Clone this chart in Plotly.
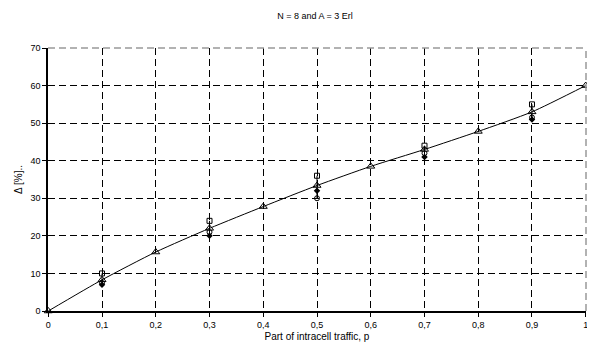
import plotly.graph_objects as go

p_all = [0, 0.1, 0.2, 0.3, 0.4, 0.5, 0.6, 0.7, 0.8, 0.9, 1.0]
delta_calc = [0, 8.3, 15.7, 22.0, 27.8, 33.4, 38.5, 43.0, 47.8, 53.0, 60.0]

p_sim = [0.1, 0.3, 0.5, 0.7, 0.9]
sim_square = [10.0, 24.0, 36.0, 44.0, 55.0]
sim_circle = [7.5, 21.0, 30.0, 42.0, 51.5]
sim_diamond = [7.0, 20.0, 32.0, 41.0, 51.0]

x_ticks = [0, 0.1, 0.2, 0.3, 0.4, 0.5, 0.6, 0.7, 0.8, 0.9, 1]
x_tick_text = ["0", "0,1", "0,2", "0,3", "0,4", "0,5", "0,6", "0,7", "0,8", "0,9", "1"]
y_ticks = [0, 10, 20, 30, 40, 50, 60, 70]

fig = go.Figure()

for i, x in enumerate(p_sim):
    lo = min(sim_square[i], sim_circle[i], sim_diamond[i])
    hi = max(sim_square[i], sim_circle[i], sim_diamond[i])
    fig.add_trace(go.Scatter(x=[x, x], y=[lo, hi], mode="lines",
                             line=dict(color="black", width=1), showlegend=False,
                             hoverinfo="skip", cliponaxis=False))

fig.add_trace(go.Scatter(x=p_all, y=delta_calc, mode="lines+markers",
                         line=dict(color="black", width=1, shape="spline", smoothing=0.6),
                         marker=dict(symbol="triangle-up-open", size=7, color="black",
                                     line=dict(width=1)),
                         showlegend=False, cliponaxis=False))
fig.add_trace(go.Scatter(x=p_sim, y=sim_square, mode="markers",
                         marker=dict(symbol="square-open", size=5, color="black",
                                     line=dict(width=1)), showlegend=False, cliponaxis=False))
fig.add_trace(go.Scatter(x=p_sim, y=sim_circle, mode="markers",
                         marker=dict(symbol="circle-open", size=5, color="black",
                                     line=dict(width=1)), showlegend=False, cliponaxis=False))
fig.add_trace(go.Scatter(x=p_sim, y=sim_diamond, mode="markers",
                         marker=dict(symbol="diamond", size=5, color="black"),
                         showlegend=False, cliponaxis=False))

fig.update_layout(
    width=587, height=341,
    margin=dict(l=40, r=9, t=40, b=38, autoexpand=False),
    paper_bgcolor="white", plot_bgcolor="white",
    font=dict(family="Liberation Sans, Arial", size=9, color="black"),
    title=dict(text="N = 8 and A = 3 Erl", x=0.523, xanchor="center", y=0.978,
               yanchor="middle", font=dict(size=9)),
    xaxis=dict(range=[-0.0005, 1.0005], tickvals=x_ticks, ticktext=x_tick_text,
               showgrid=True, gridcolor="black", griddash="7px,4px", gridwidth=1,
               showline=True, linecolor="black", linewidth=1.5,
               ticks="outside", ticklen=4, tickcolor="black",
               zeroline=False, automargin=False,
               title=dict(text="Part of intracell traffic, p", font=dict(size=10), standoff=4)),
    yaxis=dict(range=[0, 70], tickvals=y_ticks,
               showgrid=True, gridcolor="black", griddash="7px,4px", gridwidth=1,
               showline=True, linecolor="black", linewidth=1.5,
               ticks="outside", ticklen=4, tickcolor="black",
               zeroline=False, automargin=False,
               title=dict(text="Δ [%]..", font=dict(size=10), standoff=6)),
    shapes=[
        dict(type="line", xref="paper", yref="paper", x0=0, x1=1, y0=1, y1=1,
             line=dict(color="#999999", width=1.5, dash="7px,4px")),
        dict(type="line", xref="paper", yref="paper", x0=1, x1=1, y0=0, y1=1,
             line=dict(color="#999999", width=1.5, dash="7px,4px")),
    ],
)

fig.write_html("out.html")
